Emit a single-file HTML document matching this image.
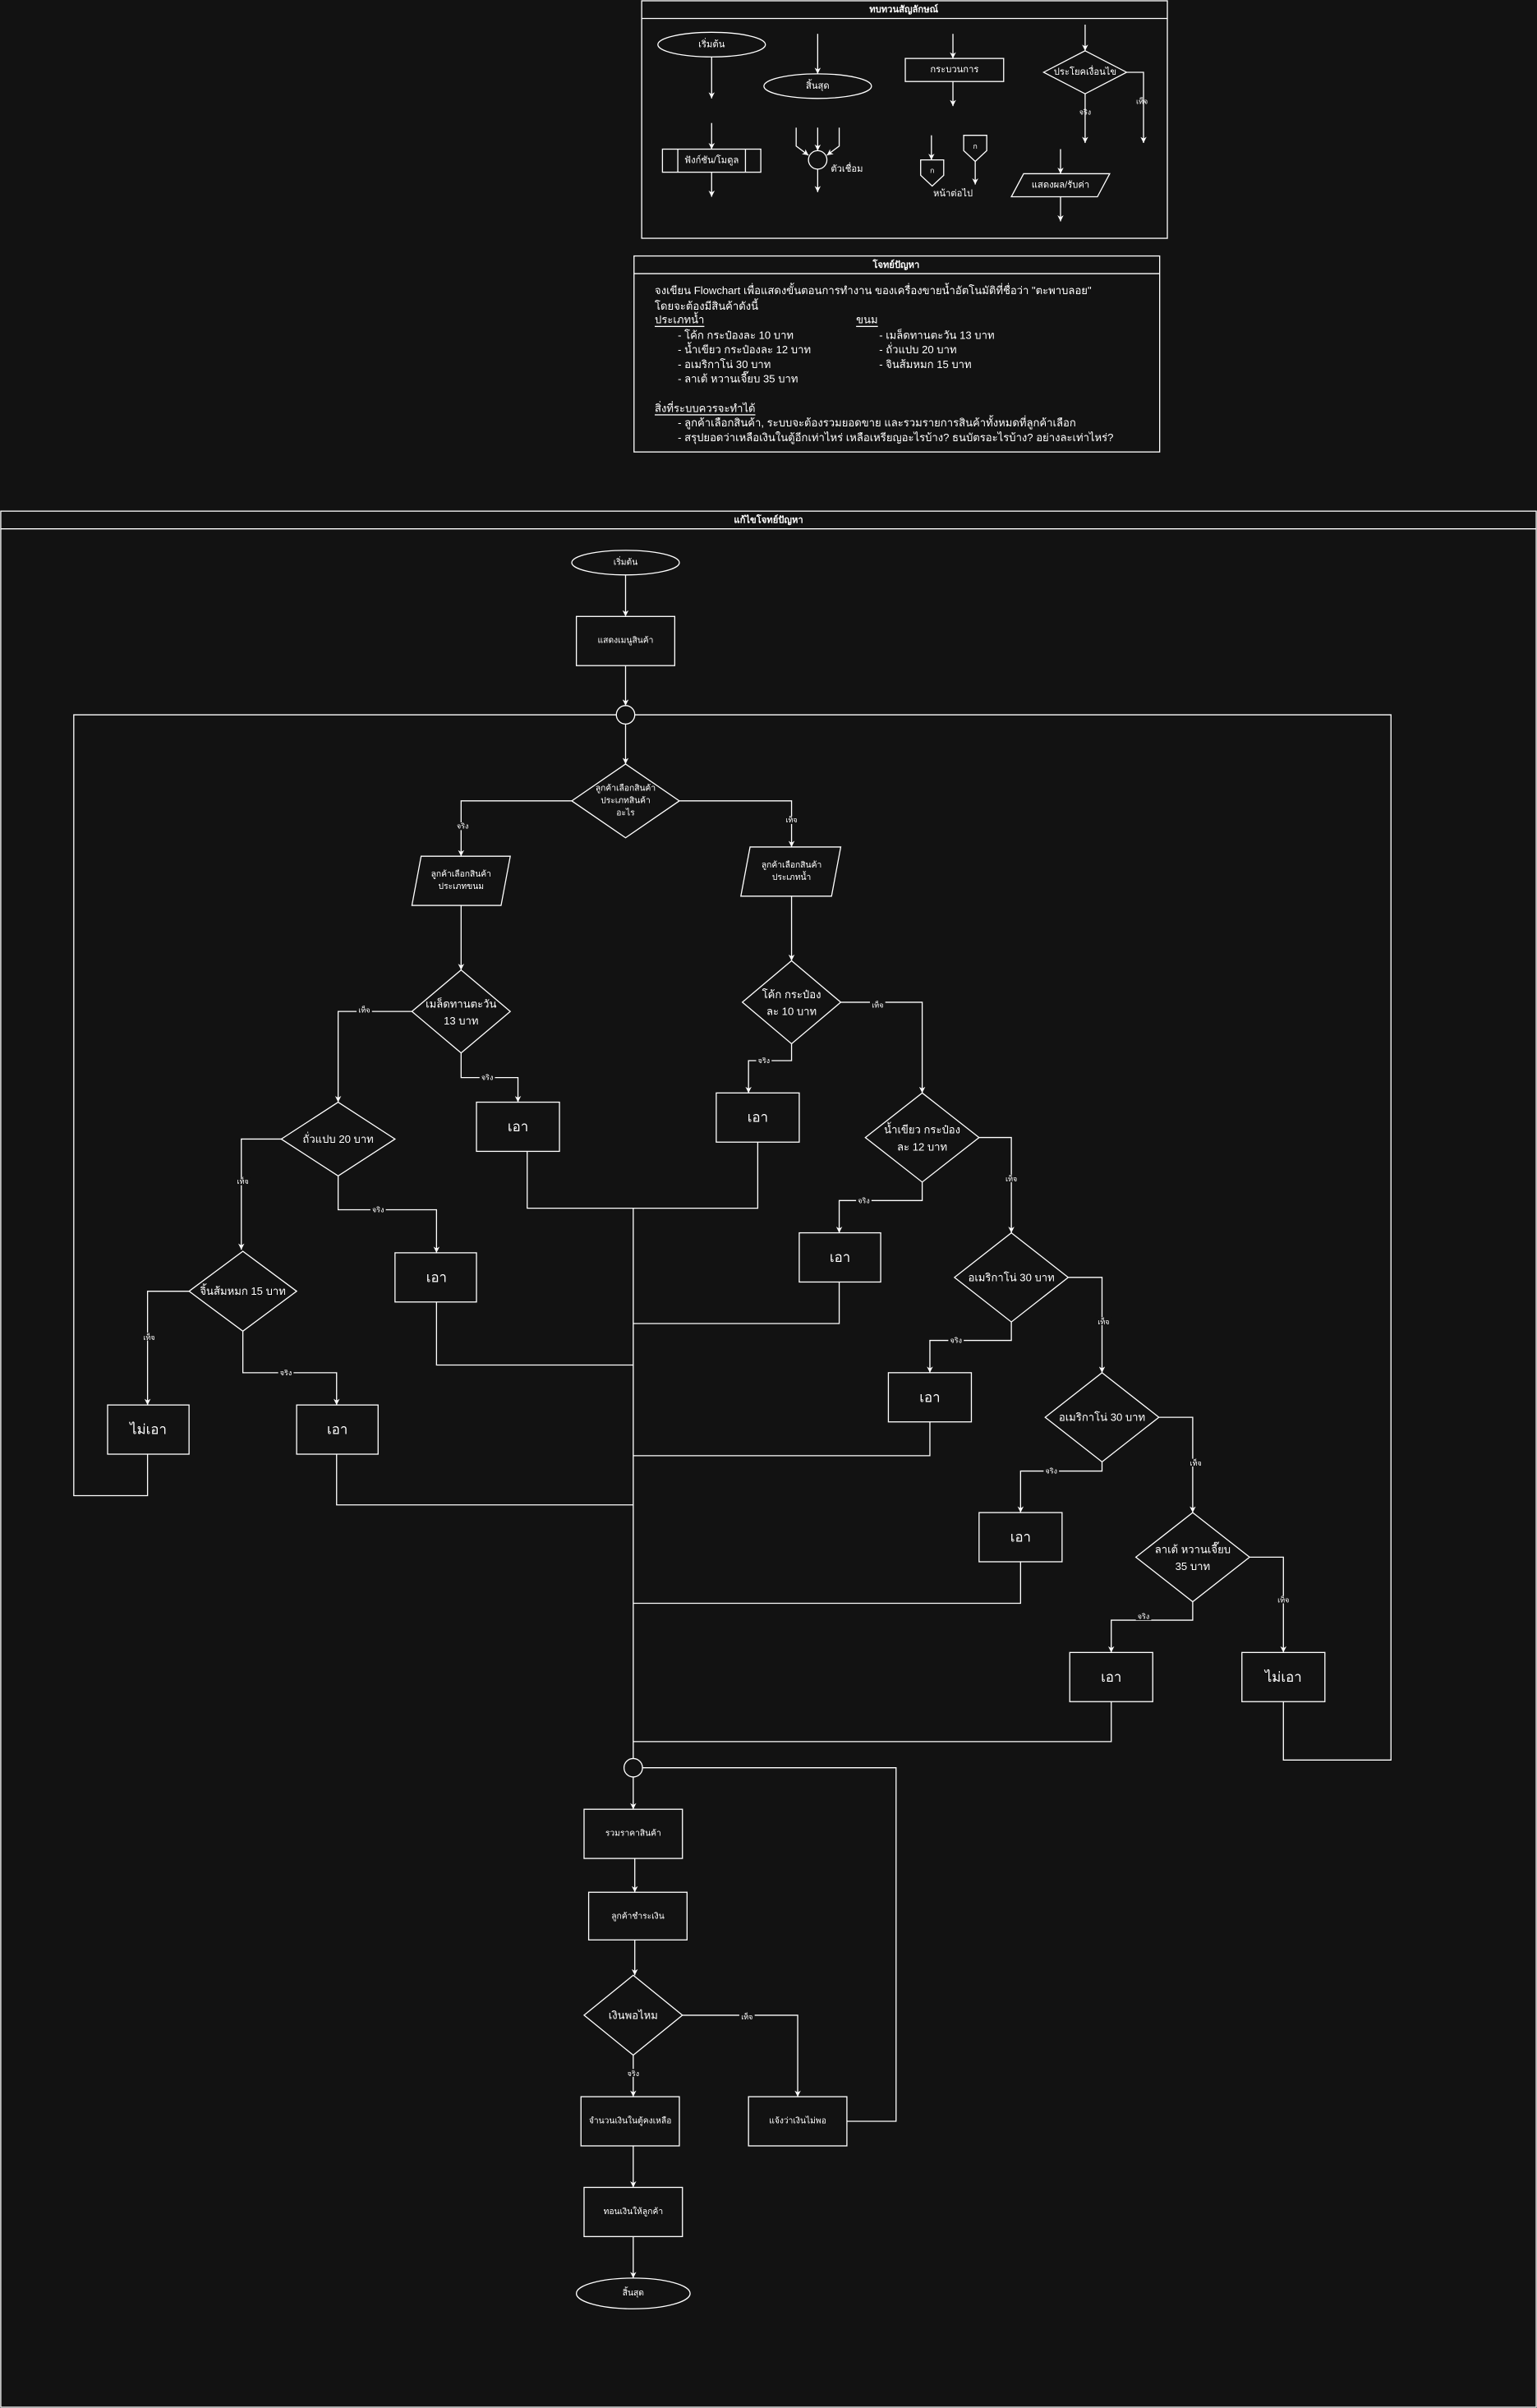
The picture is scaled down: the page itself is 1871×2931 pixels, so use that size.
<!DOCTYPE html>
<html><head><meta charset="utf-8"><style>
html,body{margin:0;padding:0;background:#121212;}
svg{display:block;}
text{font-family:"Liberation Sans","DejaVu Sans","Noto Sans CJK SC",sans-serif;fill:#fff;text-anchor:middle;dominant-baseline:central;}
.s{fill:none;stroke:#fff;stroke-width:0.7;}
.b{fill:#121212;stroke:#fff;stroke-width:0.7;}
.l{font-size:4.8px;}
.lb{fill:#121212;}
</style></head><body>
<svg width="1871" height="2931" viewBox="0 0 1000 1566.5" xmlns="http://www.w3.org/2000/svg">
<defs><marker id="a" viewBox="0 0 10 10" refX="10" refY="5" markerWidth="4" markerHeight="4" markerUnits="userSpaceOnUse" orient="auto"><path d="M0,0 L10,5 L0,10 L3,5 z" fill="#fff"/></marker></defs>
<rect width="1000" height="1566.5" fill="#121212"/>

<!-- Legend -->
<rect class="b" x="417.5" y="0.5" width="342" height="154.5"/>
<line class="s" x1="417.5" y1="12" x2="759.5" y2="12"/>
<text x="588" y="6.5" style="font-size:6px;font-weight:bold">ทบทวนสัญลักษณ์</text>
<ellipse class="b" cx="463" cy="29" rx="35" ry="8"/><text x="463" y="29" style="font-size:6px">เริ่มต้น</text>
<line class="s" x1="463" y1="37" x2="463" y2="64" marker-end="url(#a)"/>
<line class="s" x1="532" y1="22" x2="532" y2="48" marker-end="url(#a)"/>
<ellipse class="b" cx="532" cy="56" rx="35" ry="8"/><text x="532" y="56" style="font-size:6px">สิ้นสุด</text>
<line class="s" x1="620" y1="22" x2="620" y2="38" marker-end="url(#a)"/>
<rect class="b" x="589" y="38" width="64" height="15"/><text x="621" y="45.5" style="font-size:6px">กระบวนการ</text>
<line class="s" x1="620" y1="53" x2="620" y2="69" marker-end="url(#a)"/>
<line class="s" x1="706" y1="16" x2="706" y2="33" marker-end="url(#a)"/>
<polygon class="b" points="706,33 733,47 706,61 679,47"/><text x="706" y="47" style="font-size:6px">ประโยคเงื่อนไข</text>
<line class="s" x1="706" y1="61" x2="706" y2="93" marker-end="url(#a)"/>
<text x="706" y="73" class="l">จริง</text>
<polyline class="s" points="733,47 744,47 744,93" marker-end="url(#a)"/>
<text x="743" y="66" class="l">เท็จ</text>
<line class="s" x1="463" y1="80" x2="463" y2="97" marker-end="url(#a)"/>
<rect class="b" x="431" y="97" width="64" height="15"/>
<line class="s" x1="441" y1="97" x2="441" y2="112"/><line class="s" x1="485" y1="97" x2="485" y2="112"/>
<text x="463" y="104.5" style="font-size:6px">ฟังก์ชัน/โมดูล</text>
<line class="s" x1="463" y1="112" x2="463" y2="128" marker-end="url(#a)"/>
<polyline class="s" points="518,83 518,95 526,101" marker-end="url(#a)"/>
<line class="s" x1="532" y1="83" x2="532" y2="98" marker-end="url(#a)"/>
<polyline class="s" points="546,83 546,95 538,101" marker-end="url(#a)"/>
<circle class="b" cx="532" cy="104" r="6"/>
<text x="551" y="110" style="font-size:6px">ตัวเชื่อม</text>
<line class="s" x1="532" y1="110" x2="532" y2="125" marker-end="url(#a)"/>
<line class="s" x1="606" y1="88" x2="606" y2="104" marker-end="url(#a)"/>
<polygon class="b" points="599,104 614,104 614,114 606.5,121 599,114"/><text x="606.5" y="111" class="l">ก</text>
<polygon class="b" points="627,88 642,88 642,98 634.5,105 627,98"/><text x="634.5" y="95" class="l">ก</text>
<line class="s" x1="634.5" y1="105" x2="634.5" y2="120" marker-end="url(#a)"/>
<text x="620" y="126" style="font-size:6px">หน้าต่อไป</text>
<line class="s" x1="690" y1="97" x2="690" y2="113" marker-end="url(#a)"/>
<polygon class="b" points="666,113 722,113 714,128 658,128"/><text x="690" y="120.5" style="font-size:6px">แสดงผล/รับค่า</text>
<line class="s" x1="690" y1="128" x2="690" y2="144" marker-end="url(#a)"/>

<!-- Problem -->
<rect class="b" x="412.5" y="166.5" width="342" height="127.5"/>
<line class="s" x1="412.5" y1="178" x2="754.5" y2="178"/>
<text x="583" y="172.5" style="font-size:6px;font-weight:bold">โจทย์ปัญหา</text>
<g style="font-size:7px">
<text x="426" y="189" style="text-anchor:start">จงเขียน Flowchart เพื่อแสดงขั้นตอนการทำงาน ของเครื่องขายน้ำอัตโนมัติที่ชื่อว่า "ตะพาบลอย"</text>
<text x="426" y="199" style="text-anchor:start">โดยจะต้องมีสินค้าดังนี้</text>
<text x="426" y="208" style="text-anchor:start;text-decoration:underline">ประเภทน้ำ</text>
<text x="557" y="208" style="text-anchor:start;text-decoration:underline">ขนม</text>
<text x="441" y="218" style="text-anchor:start">- โค้ก กระป๋องละ 10 บาท</text>
<text x="441" y="227.5" style="text-anchor:start">- น้ำเขียว กระป๋องละ 12 บาท</text>
<text x="441" y="237" style="text-anchor:start">- อเมริกาโน่ 30 บาท</text>
<text x="441" y="246.5" style="text-anchor:start">- ลาเต้ หวานเจี๊ยบ 35 บาท</text>
<text x="572" y="218" style="text-anchor:start">- เมล็ดทานตะวัน 13 บาท</text>
<text x="572" y="227.5" style="text-anchor:start">- ถั่วแปบ 20 บาท</text>
<text x="572" y="237" style="text-anchor:start">- จินส้มหมก 15 บาท</text>
<text x="426" y="265.5" style="text-anchor:start;text-decoration:underline">สิ่งที่ระบบควรจะทำได้</text>
<text x="441" y="275" style="text-anchor:start">- ลูกค้าเลือกสินค้า, ระบบจะต้องรวมยอดขาย และรวมรายการสินค้าทั้งหมดที่ลูกค้าเลือก</text>
<text x="441" y="284.5" style="text-anchor:start">- สรุปยอดว่าเหลือเงินในตู้อีกเท่าไหร่ เหลือเหรียญอะไรบ้าง? ธนบัตรอะไรบ้าง? อย่างละเท่าไหร่?</text>
</g>

<!-- Main -->
<rect class="b" x="0.5" y="332.5" width="999" height="1233.5"/>
<line class="s" x1="0.5" y1="344" x2="999.5" y2="344"/>
<text x="500" y="338.5" style="font-size:6px;font-weight:bold">แก้ไขโจทย์ปัญหา</text>

<g style="font-size:5.5px">
<ellipse class="b" cx="407" cy="366" rx="35" ry="8"/><text x="407" y="366">เริ่มต้น</text>
<line class="s" x1="407" y1="374" x2="407" y2="401" marker-end="url(#a)"/>
<rect class="b" x="375" y="401" width="64" height="32"/><text x="407" y="417">แสดงเมนูสินค้า</text>
<line class="s" x1="407" y1="433" x2="407" y2="459" marker-end="url(#a)"/>
<polyline class="s" points="401,465 48,465 48,973 96,973 96,946"/>
<polyline class="s" points="413,465 905,465 905,1145 835,1145 835,1107"/>
<circle class="b" cx="407" cy="465" r="6"/>
<line class="s" x1="407" y1="471" x2="407" y2="497" marker-end="url(#a)"/>
<polygon class="b" points="407,497 442,521 407,545 372,521"/>
<text x="407" y="513">ลูกค้าเลือกสินค้า</text><text x="407" y="521">ประเภทสินค้า</text><text x="407" y="529">อะไร</text>
<polyline class="s" points="372,521 300,521 300,557" marker-end="url(#a)"/>
<rect class="lb" x="296" y="535" width="10" height="5"/><text x="301" y="537.5" class="l">จริง</text>
<polyline class="s" points="442,521 515,521 515,551" marker-end="url(#a)"/>
<rect class="lb" x="510" y="531" width="10" height="5"/><text x="515" y="533.5" class="l">เท็จ</text>
<polygon class="b" points="274,557 332,557 326,589 268,589"/><text x="300" y="569">ลูกค้าเลือกสินค้า</text><text x="300" y="577">ประเภทขนม</text>
<polygon class="b" points="488,551 547,551 541,583 482,583"/><text x="515" y="563">ลูกค้าเลือกสินค้า</text><text x="515" y="571">ประเภทน้ำ</text>

<line class="s" x1="300" y1="589" x2="300" y2="631" marker-end="url(#a)"/>
<polygon class="b" points="300,631 332,658 300,685 268,658"/>
<text x="300" y="653" style="font-size:7px">เมล็ดทานตะวัน</text><text x="300" y="664" style="font-size:7px">13 บาท</text>
<polyline class="s" points="268,658 220,658 220,717" marker-end="url(#a)"/>
<rect class="lb" x="232" y="654" width="10" height="5"/><text x="237" y="657" class="l">เท็จ</text>
<polyline class="s" points="300,685 300,701 337,701 337,717" marker-end="url(#a)"/>
<rect class="lb" x="312" y="698" width="10" height="5"/><text x="317" y="701" class="l">จริง</text>
<rect class="b" x="310" y="717" width="54" height="32"/><text x="337" y="733" style="font-size:9px">เอา</text>

<polygon class="b" points="220,717 257,741 220,765 183,741"/><text x="220" y="741" style="font-size:7px">ถั่วแปบ 20 บาท</text>
<polyline class="s" points="183,741 157,741 157,813" marker-end="url(#a)"/>
<rect class="lb" x="153" y="766" width="10" height="5"/><text x="158" y="768.5" class="l">เท็จ</text>
<polyline class="s" points="220,765 220,787 284,787 284,815" marker-end="url(#a)"/>
<rect class="lb" x="241" y="784" width="10" height="5"/><text x="246" y="787" class="l">จริง</text>
<rect class="b" x="257" y="815" width="53" height="32"/><text x="284" y="831" style="font-size:9px">เอา</text>

<polygon class="b" points="158,814 193,840 158,866 123,840"/><text x="158" y="840" style="font-size:7px">จิ้นส้มหมก 15 บาท</text>
<polyline class="s" points="123,840 96,840 96,914" marker-end="url(#a)"/>
<rect class="lb" x="92" y="867" width="10" height="5"/><text x="97" y="870" class="l">เท็จ</text>
<polyline class="s" points="158,866 158,893 219,893 219,914" marker-end="url(#a)"/>
<rect class="lb" x="181" y="890" width="10" height="5"/><text x="186" y="893" class="l">จริง</text>
<rect class="b" x="70" y="914" width="53" height="32"/><text x="96.5" y="930" style="font-size:9px">ไม่เอา</text>
<rect class="b" x="193" y="914" width="53" height="32"/><text x="219.5" y="930" style="font-size:9px">เอา</text>

<line class="s" x1="515" y1="583" x2="515" y2="625" marker-end="url(#a)"/>
<polygon class="b" points="515,625 547,652 515,679 483,652"/>
<text x="515" y="647" style="font-size:7px">โค้ก กระป๋อง</text><text x="515" y="658" style="font-size:7px">ละ 10 บาท</text>
<polyline class="s" points="515,679 515,690 487,690 487,711" marker-end="url(#a)"/>
<rect class="lb" x="492" y="687" width="10" height="5"/><text x="497" y="690" class="l">จริง</text>
<polyline class="s" points="547,652 600,652 600,711" marker-end="url(#a)"/>
<rect class="lb" x="566" y="651" width="10" height="5"/><text x="571" y="654" class="l">เท็จ</text>
<rect class="b" x="466" y="711" width="54" height="32"/><text x="493" y="727" style="font-size:9px">เอา</text>

<polygon class="b" points="600,711 637,740 600,769 563,740"/>
<text x="600" y="735" style="font-size:7px">น้ำเขียว กระป๋อง</text><text x="600" y="746" style="font-size:7px">ละ 12 บาท</text>
<polyline class="s" points="600,769 600,781 546,781 546,802" marker-end="url(#a)"/>
<rect class="lb" x="557" y="778" width="10" height="5"/><text x="562" y="781" class="l">จริง</text>
<polyline class="s" points="637,740 658,740 658,802" marker-end="url(#a)"/>
<rect class="lb" x="653" y="764" width="10" height="5"/><text x="658" y="767" class="l">เท็จ</text>
<rect class="b" x="520" y="802" width="53" height="32"/><text x="546.5" y="818" style="font-size:9px">เอา</text>

<polygon class="b" points="658,802 695,831 658,860 621,831"/><text x="658" y="831" style="font-size:7px">อเมริกาโน่ 30 บาท</text>
<polyline class="s" points="658,860 658,872 605,872 605,893" marker-end="url(#a)"/>
<rect class="lb" x="617" y="869" width="10" height="5"/><text x="622" y="872" class="l">จริง</text>
<polyline class="s" points="695,831 717,831 717,893" marker-end="url(#a)"/>
<rect class="lb" x="713" y="857" width="10" height="5"/><text x="718" y="860" class="l">เท็จ</text>
<rect class="b" x="578" y="893" width="54" height="32"/><text x="605" y="909" style="font-size:9px">เอา</text>

<polygon class="b" points="717,893 754,922 717,951 680,922"/><text x="717" y="922" style="font-size:7px">อเมริกาโน่ 30 บาท</text>
<polyline class="s" points="717,951 717,957 664,957 664,984" marker-end="url(#a)"/>
<rect class="lb" x="679" y="954" width="10" height="5"/><text x="684" y="957" class="l">จริง</text>
<polyline class="s" points="754,922 776,922 776,984" marker-end="url(#a)"/>
<rect class="lb" x="773" y="949" width="10" height="5"/><text x="778" y="952" class="l">เท็จ</text>
<rect class="b" x="637" y="984" width="54" height="32"/><text x="664" y="1000" style="font-size:9px">เอา</text>

<polygon class="b" points="776,984 813,1013 776,1042 739,1013"/>
<text x="776" y="1008" style="font-size:7px">ลาเต้ หวานเจี๊ยบ</text><text x="776" y="1019" style="font-size:7px">35 บาท</text>
<polyline class="s" points="776,1042 776,1054 723,1054 723,1075" marker-end="url(#a)"/>
<rect class="lb" x="739" y="1049" width="10" height="5"/><text x="744" y="1051.5" class="l">จริง</text>
<polyline class="s" points="813,1013 835,1013 835,1075" marker-end="url(#a)"/>
<rect class="lb" x="830" y="1038" width="10" height="5"/><text x="835" y="1041" class="l">เท็จ</text>
<rect class="b" x="696" y="1075" width="54" height="32"/><text x="723" y="1091" style="font-size:9px">เอา</text>
<rect class="b" x="808" y="1075" width="54" height="32"/><text x="835" y="1091" style="font-size:9px">ไม่เอา</text>

<polyline class="s" points="343,749 343,786 493,786 493,743"/>
<line class="s" x1="412" y1="786" x2="412" y2="1144"/>
<polyline class="s" points="284,847 284,888 412,888"/>
<polyline class="s" points="546,834 546,861 412,861"/>
<polyline class="s" points="219,946 219,979 412,979"/>
<polyline class="s" points="605,925 605,947 412,947"/>
<polyline class="s" points="664,1016 664,1043 412,1043"/>
<polyline class="s" points="723,1107 723,1133 412,1133"/>
<circle class="b" cx="412" cy="1150" r="6"/>
<polyline class="s" points="418,1150 583,1150 583,1380 551,1380"/>
<line class="s" x1="412" y1="1156" x2="412" y2="1177" marker-end="url(#a)"/>
<rect class="b" x="380" y="1177" width="64" height="32"/><text x="412" y="1193">รวมราคาสินค้า</text>
<line class="s" x1="413" y1="1209" x2="413" y2="1231" marker-end="url(#a)"/>
<rect class="b" x="383" y="1231" width="64" height="31"/><text x="415" y="1247">ลูกค้าชำระเงิน</text>
<line class="s" x1="413" y1="1262" x2="413" y2="1285" marker-end="url(#a)"/>
<polygon class="b" points="412,1285 444,1311 412,1337 380,1311"/><text x="412" y="1311" style="font-size:7px">เงินพอไหม</text>
<line class="s" x1="412" y1="1337" x2="412" y2="1364" marker-end="url(#a)"/>
<rect class="lb" x="407" y="1346" width="10" height="5"/><text x="412" y="1349" class="l">จริง</text>
<polyline class="s" points="444,1311 519,1311 519,1364" marker-end="url(#a)"/>
<rect class="lb" x="481" y="1309" width="10" height="5"/><text x="486" y="1312" class="l">เท็จ</text>
<rect class="b" x="378" y="1364" width="64" height="32"/><text x="410" y="1380">จำนวนเงินในตู้คงเหลือ</text>
<rect class="b" x="487" y="1364" width="64" height="32"/><text x="519" y="1380">แจ้งว่าเงินไม่พอ</text>
<line class="s" x1="412" y1="1396" x2="412" y2="1423" marker-end="url(#a)"/>
<rect class="b" x="380" y="1423" width="64" height="32"/><text x="412" y="1439">ทอนเงินให้ลูกค้า</text>
<line class="s" x1="412" y1="1455" x2="412" y2="1482" marker-end="url(#a)"/>
<ellipse class="b" cx="412" cy="1492" rx="37" ry="10"/><text x="412" y="1492">สิ้นสุด</text>
</g>
</svg>
</body></html>
